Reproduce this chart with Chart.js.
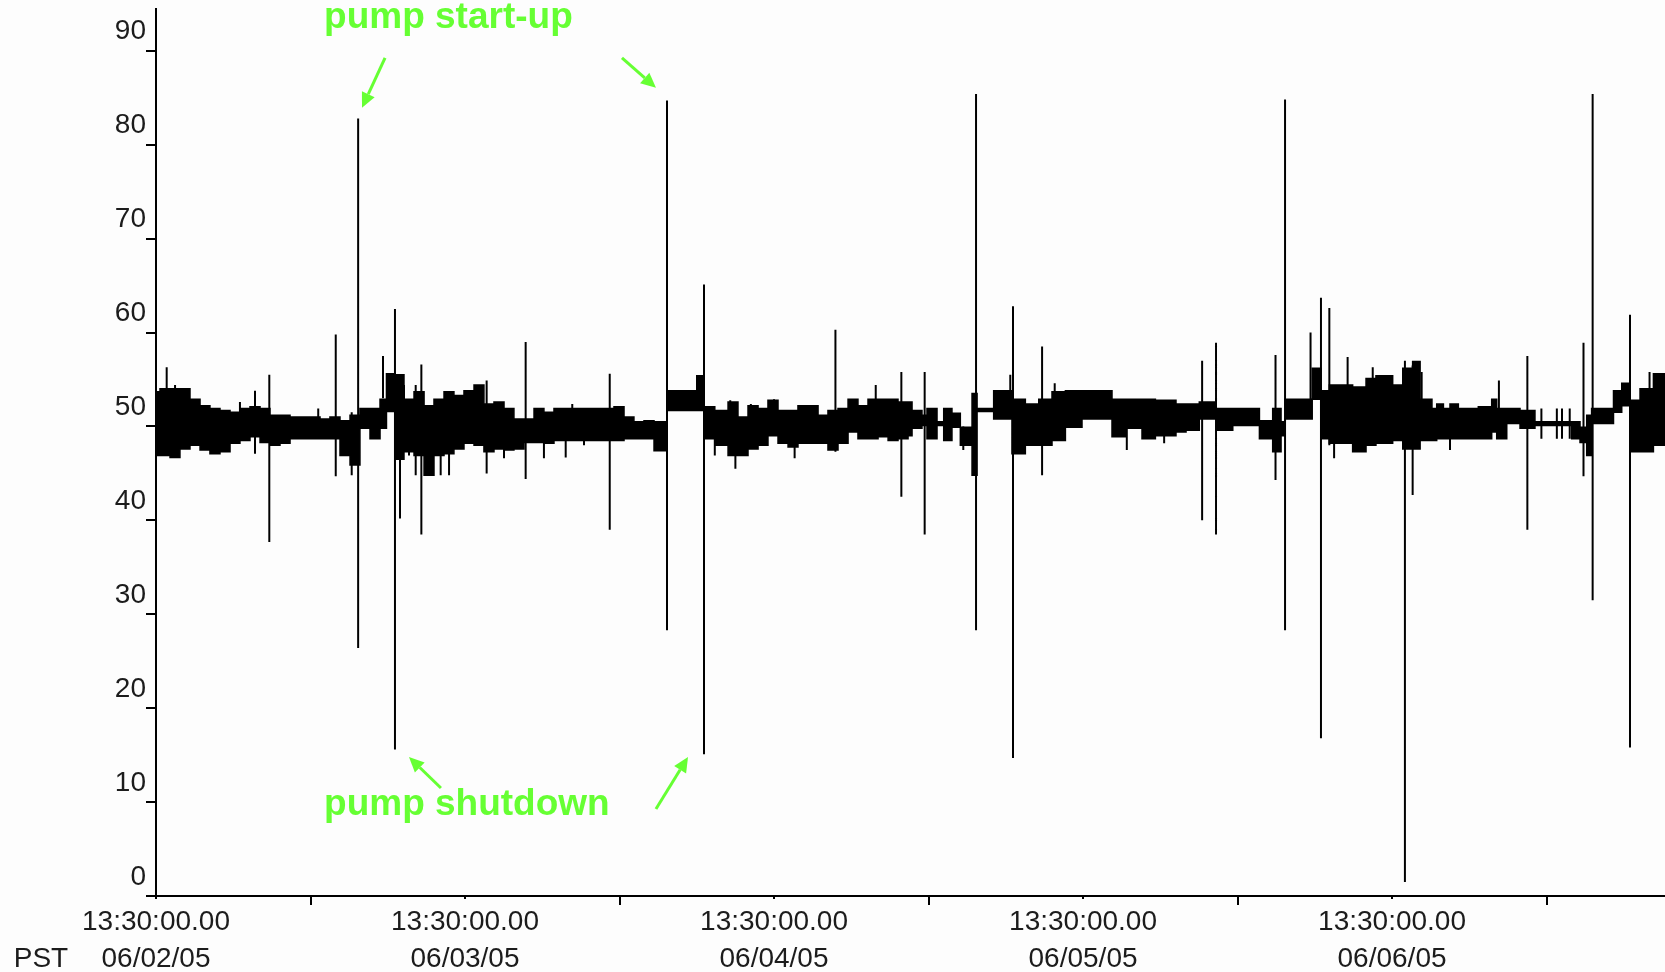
<!DOCTYPE html>
<html>
<head>
<meta charset="utf-8">
<title>Pressure trend 06/02/05 - 06/06/05</title>
<script src="https://cdn.jsdelivr.net/npm/chart.js@4.4.1/dist/chart.umd.min.js"></script>
<style>
  html, body { margin: 0; padding: 0; background: #fdfdfd; }
  #grafico-container { width: 1665px; height: 972px; }
</style>
</head>
<body>
<div id="grafico-container"><canvas id="trend"></canvas></div>
<script>
// Time axis is in hours after 06/02/05 13:30 PST
const END_HOUR = 117.2;
const Y_TOP = 94.5;
const tickHours = [0, 12, 24, 36, 48, 60, 72, 84, 96, 108];
const dayLabels = ['06/02/05', '06/03/05', '06/04/05', '06/05/05', '06/06/05'];
const timeLabel = '13:30:00.00';
const yTicks = [0, 10, 20, 30, 40, 50, 60, 70, 80, 90];

// Band of the trace: start hour of each step, upper and lower edge
const bandHour = [
  0, 0.31, 1.09, 1.86, 2.64, 3.42, 4.19, 4.97, 5.75, 6.52,
  7.30, 8.08, 8.85, 9.63, 10.41, 12.74, 13.51, 14.29, 15.07, 15.84,
  16.62, 17.40, 17.90, 18.56, 19.26, 20.04, 20.82, 21.59, 22.37, 23.14,
  23.92, 24.70, 25.47, 26.25, 27.03, 27.80, 28.58, 29.36, 30.13, 30.91,
  35.57, 36.35, 37.12, 37.90, 38.68, 39.69, 42.00, 42.56, 43.40, 44.43,
  45.20, 45.98, 46.76, 47.53, 48.31, 49.09, 49.86, 51.42, 52.19, 52.97,
  53.75, 54.52, 55.30, 56.08, 56.86, 57.63, 58.41, 58.72, 59.49, 59.88,
  60.66, 61.18, 61.82, 62.47, 63.38, 63.77, 65.06, 66.48, 67.52, 68.56,
  69.59, 70.63, 71.92, 74.25, 75.29, 76.58, 77.62, 79.22, 80.00, 81.03,
  82.33, 83.63, 85.70, 86.73, 87.38, 87.69, 89.80, 90.48, 91.13, 92.94,
  93.98, 94.75, 96.05, 96.83, 97.60, 98.18, 99.10, 99.47, 99.99, 100.50,
  101.15, 102.70, 103.74, 104.13, 104.91, 105.94, 107.10, 109.95, 110.60, 111.12,
  111.50, 113.20, 113.84, 114.48, 115.26, 116.30
];
const bandHigh = [
  53.7, 54.0, 54.0, 54.0, 52.9, 52.2, 51.9, 51.7, 51.5, 51.9,
  52.1, 51.9, 51.2, 51.2, 51.0, 50.8, 51.0, 50.6, 51.2, 51.9,
  51.9, 52.9, 55.6, 55.5, 52.9, 53.7, 52.2, 52.9, 53.7, 53.3,
  53.8, 54.4, 52.4, 52.6, 51.9, 50.8, 50.8, 51.9, 51.5, 51.9,
  52.1, 51.0, 50.5, 50.6, 50.5, 53.8, 55.4, 52.1, 51.7, 52.6,
  51.0, 52.2, 51.9, 52.8, 51.7, 51.7, 52.2, 51.2, 51.7, 51.9,
  52.9, 52.2, 52.9, 52.9, 52.9, 52.6, 52.6, 51.7, 51.2, 51.9,
  50.5, 51.9, 51.4, 49.9, 53.5, 51.9, 53.8, 52.9, 52.4, 52.9,
  53.7, 53.8, 53.8, 52.9, 52.9, 52.9, 52.8, 52.4, 52.4, 52.6,
  51.9, 51.9, 50.6, 51.9, 50.5, 52.9, 56.2, 53.8, 54.4, 54.2,
  55.1, 55.4, 54.4, 56.2, 56.9, 52.9, 51.9, 52.4, 51.9, 52.4,
  51.9, 52.1, 52.9, 51.9, 51.9, 51.7, 50.5, 50.5, 49.9, 51.2,
  51.9, 53.8, 54.6, 52.8, 54.0, 55.6
];
const bandLow = [
  46.9, 46.9, 46.7, 47.6, 48.0, 47.5, 47.1, 47.3, 48.2, 48.5,
  48.9, 48.3, 48.0, 48.2, 48.7, 48.7, 48.7, 46.9, 45.9, 49.8,
  48.7, 49.8, 51.6, 46.5, 47.3, 46.9, 44.8, 46.9, 47.1, 47.6,
  48.2, 48.0, 47.3, 47.6, 47.5, 47.6, 48.3, 48.3, 48.2, 48.5,
  48.5, 48.7, 48.7, 48.7, 47.4, 51.7, 51.7, 48.7, 48.0, 46.9,
  46.9, 47.6, 48.0, 49.0, 48.2, 47.8, 48.2, 48.2, 47.5, 48.2,
  49.4, 48.7, 48.7, 48.9, 48.5, 48.7, 49.0, 49.8, 50.1, 48.7,
  50.1, 48.5, 49.9, 48.0, 44.8, 51.6, 50.8, 47.1, 48.0, 48.0,
  48.5, 49.9, 50.8, 48.9, 49.8, 48.7, 49.0, 49.4, 49.6, 50.8,
  49.6, 50.1, 48.7, 47.3, 49.0, 50.8, 52.9, 48.7, 48.2, 47.3,
  48.0, 48.2, 48.5, 47.6, 47.6, 48.5, 48.5, 48.7, 48.7, 48.7,
  48.7, 48.7, 49.4, 48.7, 50.3, 49.8, 50.1, 48.7, 48.3, 46.9,
  50.3, 51.5, 52.2, 47.3, 47.3, 48.0
];

// Single spikes: hour, bottom and top of the vertical stroke
const spikeHour = [
  0.83, 1.48, 6.52, 7.69, 8.80, 12.60, 13.96, 15.20, 15.70, 17.63,
  18.56, 18.95, 19.26, 19.65, 20.17, 20.61, 22.11, 22.76, 25.68, 27.03,
  28.71, 30.13, 31.82, 32.33, 33.24, 35.24, 39.69, 42.56, 43.40, 44.60,
  45.00, 46.20, 48.00, 49.60, 52.77, 55.90, 57.89, 59.70, 62.70, 63.69,
  66.35, 66.56, 68.82, 69.80, 75.40, 78.30, 81.25, 82.33, 86.95, 87.69,
  89.67, 90.48, 91.13, 91.50, 92.55, 94.50, 97.00, 97.60, 98.30, 100.50,
  104.30, 106.51, 107.60, 108.80, 109.20, 109.80, 110.87, 111.58, 114.48, 116.00
];
const spikeLow = [
  53.0, 53.0, 51.0, 47.1, 37.7, 50.0, 44.7, 44.8, 26.4, 53.0,
  15.6, 40.2, 50.0, 46.9, 44.8, 38.5, 44.8, 44.8, 45.0, 46.6,
  44.4, 46.6, 46.7, 50.0, 48.0, 39.0, 28.3, 15.1, 46.9, 50.0,
  45.5, 50.0, 50.0, 46.6, 47.3, 50.0, 42.5, 38.5, 47.5, 28.3,
  51.0, 14.7, 44.8, 50.0, 47.5, 48.2, 40.0, 38.5, 44.3, 28.3,
  52.0, 16.8, 48.0, 46.6, 50.0, 50.0, 1.5, 42.7, 50.0, 47.5,
  50.0, 39.0, 48.7, 48.7, 48.7, 48.7, 44.7, 31.5, 15.8, 50.0
];
const spikeHigh = [
  56.3, 54.4, 52.6, 53.8, 55.5, 51.9, 59.8, 51.5, 82.8, 57.5,
  62.5, 54.0, 54.4, 50.0, 54.4, 56.6, 50.0, 50.0, 54.9, 50.0,
  59.0, 50.0, 50.0, 52.4, 50.0, 55.6, 84.7, 65.1, 50.0, 52.8,
  50.0, 52.4, 52.9, 50.0, 60.3, 54.4, 55.8, 55.8, 50.0, 85.4,
  55.5, 62.8, 58.5, 54.6, 50.0, 50.0, 57.0, 58.9, 57.6, 84.8,
  60.0, 63.7, 62.6, 50.0, 57.4, 56.3, 57.0, 56.5, 55.8, 50.0,
  54.9, 57.5, 51.9, 51.9, 51.9, 51.9, 58.9, 85.4, 61.9, 55.8
];

/* ------------------------------------------------------------------ */
/*                          HELPERS                                   */
/* ------------------------------------------------------------------ */

const INK = '#000000';
const LABEL_COLOR = '#1c1c1c';
const NOTE_COLOR = '#66ff33';
const FONT = "'Liberation Sans', Arial, sans-serif";

/**
 * Turns a stepped band edge into points, closing the last step at the end of the axis.
 */
function bandPoints(values) {
    const pts = bandHour.map((h, i) => ({ x: h, y: values[i] }));
    pts.push({ x: END_HOUR, y: values[values.length - 1] });
    return pts;
}

/**
 * One vertical stroke per spike, separated by gaps.
 */
function spikePoints() {
    const pts = [];
    spikeHour.forEach((h, i) => {
        pts.push({ x: h, y: spikeLow[i] });
        pts.push({ x: h, y: spikeHigh[i] });
        pts.push({ x: h, y: null });
    });
    return pts;
}

// Green call-outs, placed in axis units (hour, value)
const notes = [
    { text: 'pump start-up', hour: 13.05, value: 92.4 },
    { text: 'pump shutdown', hour: 13.05, value: 8.6 }
];
const arrows = [
    { from: [17.79, 89.25], to: [16.00, 83.92] },
    { from: [36.19, 89.25], to: [38.83, 86.05] },
    { from: [22.13, 11.50], to: [19.65, 14.80] },
    { from: [38.83, 9.27], to: [41.32, 14.80] }
];

function drawArrow(ctx, x1, y1, x2, y2) {
    const ang = Math.atan2(y2 - y1, x2 - x1);
    const head = 15, half = 7;
    const bx = x2 - head * Math.cos(ang), by = y2 - head * Math.sin(ang);
    ctx.beginPath();
    ctx.moveTo(x1, y1);
    ctx.lineTo(bx, by);
    ctx.stroke();
    ctx.beginPath();
    ctx.moveTo(x2, y2);
    ctx.lineTo(bx + half * Math.sin(ang), by - half * Math.cos(ang));
    ctx.lineTo(bx - half * Math.sin(ang), by + half * Math.cos(ang));
    ctx.closePath();
    ctx.fill();
}

// Longer marks at the unlabeled half-day ticks, "PST" and the call-outs
const extrasPlugin = {
    id: 'extras',
    afterDraw(chart) {
        const { ctx, scales: { x, y } } = chart;
        ctx.save();

        ctx.strokeStyle = INK;
        ctx.lineWidth = 2;
        tickHours.filter(h => h % 24 !== 0).forEach(h => {
            const px = Math.round(x.getPixelForValue(h));
            ctx.beginPath();
            ctx.moveTo(px, y.bottom);
            ctx.lineTo(px, y.bottom + 9);
            ctx.stroke();
        });

        ctx.fillStyle = LABEL_COLOR;
        ctx.font = '28px ' + FONT;
        ctx.textAlign = 'center';
        ctx.textBaseline = 'middle';
        ctx.fillText('PST', 41, y.bottom + 63);

        ctx.fillStyle = NOTE_COLOR;
        ctx.strokeStyle = NOTE_COLOR;
        ctx.lineWidth = 3;
        ctx.font = 'bold 37px ' + FONT;
        ctx.textAlign = 'left';
        ctx.textBaseline = 'alphabetic';
        notes.forEach(n => {
            ctx.fillText(n.text, x.getPixelForValue(n.hour), y.getPixelForValue(n.value));
        });
        arrows.forEach(a => {
            drawArrow(ctx,
                x.getPixelForValue(a.from[0]), y.getPixelForValue(a.from[1]),
                x.getPixelForValue(a.to[0]), y.getPixelForValue(a.to[1]));
        });

        ctx.restore();
    }
};

/**
 * Draws the trend chart.
 */
function desenharGrafico() {
    const ctx = document.getElementById('trend').getContext('2d');
    Chart.defaults.font.family = FONT;

    new Chart(ctx, {
        type: 'line',
        data: {
            datasets: [
                {
                    data: bandPoints(bandHigh),
                    stepped: true,
                    borderColor: INK,
                    borderWidth: 1.5,
                    pointRadius: 0,
                    fill: false
                },
                {
                    data: bandPoints(bandLow),
                    stepped: true,
                    borderColor: INK,
                    borderWidth: 1.5,
                    pointRadius: 0,
                    fill: '-1',
                    backgroundColor: INK
                },
                {
                    data: spikePoints(),
                    borderColor: INK,
                    borderWidth: 2,
                    pointRadius: 0,
                    spanGaps: false,
                    fill: false
                }
            ]
        },
        options: {
            responsive: true,
            maintainAspectRatio: false,
            animation: false,
            layout: { padding: { top: 8.5, right: 0, bottom: 0, left: 0 } },
            plugins: {
                legend: { display: false },
                tooltip: { enabled: false }
            },
            scales: {
                x: {
                    type: 'linear',
                    min: 0,
                    max: END_HOUR,
                    afterBuildTicks: axis => { axis.ticks = tickHours.map(v => ({ value: v })); },
                    afterFit: axis => {
                        axis.height = 76;
                        axis.paddingLeft = 0;
                        axis.paddingRight = 0;
                    },
                    border: { display: true, color: INK, width: 2 },
                    grid: { drawOnChartArea: false, drawTicks: true, tickLength: 3, color: INK, lineWidth: 2 },
                    ticks: {
                        autoSkip: false,
                        maxRotation: 0,
                        minRotation: 0,
                        padding: 5,
                        color: LABEL_COLOR,
                        font: { size: 28, lineHeight: 1.32 },
                        callback: v => v % 24 === 0 ? [timeLabel, dayLabels[v / 24]] : ''
                    }
                },
                y: {
                    min: 0,
                    max: Y_TOP,
                    afterBuildTicks: axis => { axis.ticks = yTicks.map(v => ({ value: v })); },
                    afterFit: axis => {
                        axis.width = 156;
                        axis.paddingTop = 0;
                        axis.paddingBottom = 0;
                    },
                    border: { display: true, color: INK, width: 2 },
                    grid: { drawOnChartArea: false, drawTicks: true, tickLength: 10, color: INK, lineWidth: 2 },
                    ticks: {
                        padding: 0,
                        labelOffset: -19,
                        color: LABEL_COLOR,
                        font: { size: 28 }
                    }
                }
            }
        },
        plugins: [extrasPlugin]
    });
}

desenharGrafico();
</script>
</body>
</html>
